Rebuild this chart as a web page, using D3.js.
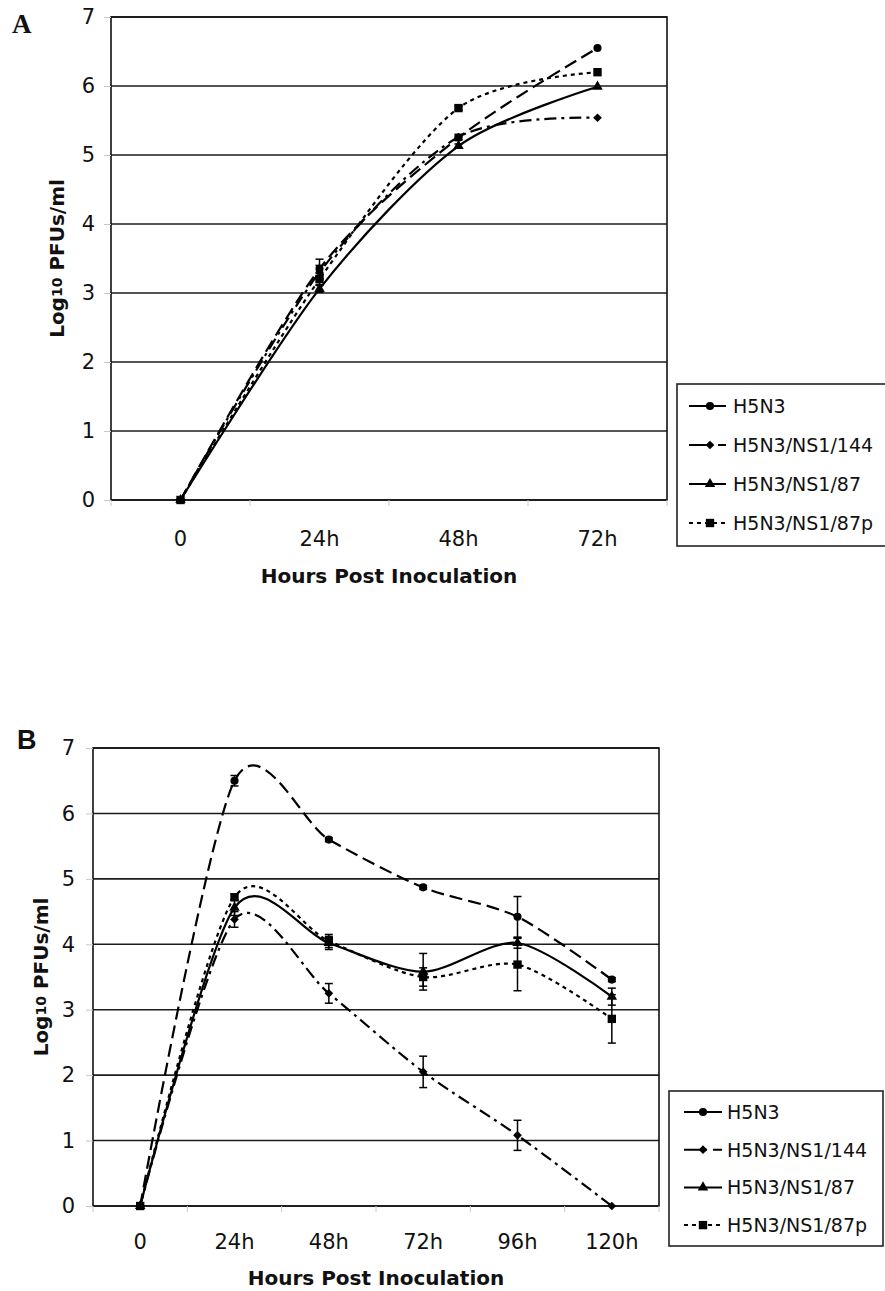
<!DOCTYPE html>
<html>
<head>
<meta charset="utf-8">
<script src="https://cdn.jsdelivr.net/npm/d3@7"></script>
<style>
  html, body { margin: 0; padding: 0; background: #fff; }
  svg { display: block; }
</style>
</head>
<body>
<div id="chart"></div>
<script>
// ---------- data ----------
const seriesNames = ["H5N3", "H5N3/NS1/144", "H5N3/NS1/87", "H5N3/NS1/87p"];
const yTicks = [0, 1, 2, 3, 4, 5, 6, 7];

// panel A
const hoursA = ["0", "24h", "48h", "72h"];
const a_H5N3 = [0, 3.35, 5.25, 6.55];
const a_NS1_144 = [0, 3.3, 5.26, 5.54];
const a_NS1_87 = [0, 3.06, 5.13, 5.99];
const a_NS1_87p = [0, 3.2, 5.68, 6.2];
const aErr_H5N3 = [0, 0.14, 0.03, 0];
const aErr_NS1_144 = [0, 0.1, 0.04, 0];
const aErr_NS1_87 = [0, 0.05, 0.03, 0];
const aErr_NS1_87p = [0, 0.08, 0.03, 0];

// panel B
const hoursB = ["0", "24h", "48h", "72h", "96h", "120h"];
const b_H5N3 = [0, 6.5, 5.6, 4.87, 4.42, 3.46];
const b_NS1_144 = [0, 4.38, 3.25, 2.05, 1.08, 0];
const b_NS1_87 = [0, 4.56, 4.02, 3.58, 4.02, 3.2];
const b_NS1_87p = [0, 4.72, 4.05, 3.5, 3.69, 2.86];
const bErr_H5N3 = [0, 0.08, 0.03, 0.03, 0.31, 0.03];
const bErr_NS1_144 = [0, 0.12, 0.15, 0.24, 0.23, 0];
const bErr_NS1_87 = [0, 0.12, 0.1, 0.28, 0.08, 0.13];
const bErr_NS1_87p = [0, 0.05, 0.1, 0.14, 0.4, 0.37];

// ---------- styles ----------
const dashes = ["13,6", "12,5,3,5", null, "4,4"];
const legendDashes = [null, "23,6,9", null, "4,4"];
const markers = ["circle", "diamond", "triangle", "square"];
const FONT = "'DejaVu Sans', Verdana, sans-serif";

const svg = d3.select("#chart").append("svg")
  .attr("width", 885)
  .attr("height", 1291);

function markerPath(kind) {
  if (kind === "circle") return d3.symbol(d3.symbolCircle, 52)();
  if (kind === "diamond") return d3.symbol(d3.symbolSquare, 38)();
  if (kind === "triangle") return d3.symbol(d3.symbolTriangle, 48)();
  return d3.symbol(d3.symbolSquare, 70)();
}

function drawMarker(g, kind, px, py) {
  g.append("path")
    .attr("d", markerPath(kind))
    .attr("transform", `translate(${px},${py})` + (kind === "diamond" ? " rotate(45)" : ""))
    .attr("fill", "#000");
}

function drawPanel(p) {
  const g = svg.append("g");

  const x = d3.scaleBand().domain(p.cats).range([p.left, p.right]);
  const y = d3.scaleLinear().domain([0, 7]).range([p.bottom, p.top]);
  const cx = c => x(c) + x.bandwidth() / 2;

  // gridlines
  g.selectAll("line.grid")
    .data(yTicks)
    .join("line")
    .attr("x1", p.left).attr("x2", p.right)
    .attr("y1", d => y(d)).attr("y2", d => y(d))
    .attr("stroke", "#1c1c1c")
    .attr("stroke-width", 1.6);

  g.append("rect")
    .attr("x", p.left).attr("y", p.top)
    .attr("width", p.right - p.left).attr("height", p.bottom - p.top)
    .attr("fill", "none")
    .attr("stroke", "#111")
    .attr("stroke-width", 1.6);

  // y axis
  const ya = g.append("g")
    .attr("transform", `translate(${p.left},0)`)
    .call(d3.axisLeft(y).tickValues(yTicks).tickSize(7).tickPadding(p.yPad).tickFormat(d3.format("d")));
  ya.select(".domain").remove();
  ya.selectAll(".tick line").attr("stroke", "#c8c8c8");
  ya.selectAll("text").attr("font-size", 21).attr("font-family", FONT).attr("fill", "#111");

  // x axis
  const xa = g.append("g")
    .attr("transform", `translate(0,${p.bottom})`)
    .call(d3.axisBottom(x).tickSize(0).tickPadding(p.xPad));
  xa.select(".domain").remove();
  xa.selectAll("text").attr("font-size", 21).attr("font-family", FONT).attr("fill", "#111");

  // small ticks at band edges
  const edges = p.cats.map(c => x(c)).concat([x.range()[1]]);
  g.selectAll("line.xt")
    .data(edges)
    .join("line")
    .attr("x1", d => d).attr("x2", d => d)
    .attr("y1", p.bottom).attr("y2", p.bottom + 6)
    .attr("stroke", "#c8c8c8");

  // lines
  const line = d3.line()
    .x((d, i) => cx(p.cats[i]))
    .y(d => y(d))
    .curve(d3.curveCardinal.tension(0.15));

  p.values.forEach((vals, s) => {
    g.append("path")
      .attr("d", line(vals))
      .attr("fill", "none")
      .attr("stroke", "#000")
      .attr("stroke-width", 2.2)
      .attr("stroke-dasharray", dashes[s]);
  });

  // error bars + markers
  p.values.forEach((vals, s) => {
    vals.forEach((v, i) => {
      const e = p.errs[s][i];
      if (e > 0) {
        const px = cx(p.cats[i]);
        g.append("line")
          .attr("x1", px).attr("x2", px)
          .attr("y1", y(v - e)).attr("y2", y(v + e))
          .attr("stroke", "#000").attr("stroke-width", 1.5);
        [v - e, v + e].forEach(t => {
          g.append("line")
            .attr("x1", px - 4).attr("x2", px + 4)
            .attr("y1", y(t)).attr("y2", y(t))
            .attr("stroke", "#000").attr("stroke-width", 1.5);
        });
      }
    });
  });
  p.values.forEach((vals, s) => {
    vals.forEach((v, i) => drawMarker(g, markers[s], cx(p.cats[i]), y(v)));
  });

  // axis titles
  g.append("text")
    .attr("x", (p.left + p.right) / 2)
    .attr("y", p.xTitleY)
    .attr("text-anchor", "middle")
    .attr("font-family", FONT)
    .attr("font-weight", "bold")
    .attr("font-size", 20)
    .attr("fill", "#111")
    .text("Hours Post Inoculation");

  const yt = g.append("text")
    .attr("transform", `translate(${p.yTitleX},${(p.top + p.bottom) / 2}) rotate(-90)`)
    .attr("text-anchor", "middle")
    .attr("dominant-baseline", "central")
    .attr("font-family", FONT)
    .attr("font-weight", "bold")
    .attr("font-size", 20)
    .attr("fill", "#111");
  yt.append("tspan").text("Log");
  yt.append("tspan").attr("font-size", 14).text("10");
  yt.append("tspan").text(" PFUs/ml");

  // panel letter
  g.append("text")
    .attr("x", p.letter.x).attr("y", p.letter.y)
    .attr("font-family", p.letter.font)
    .attr("font-weight", "bold")
    .attr("font-size", 27)
    .attr("fill", "#111")
    .text(p.letter.text);

  // legend
  const L = p.legend;
  g.append("rect")
    .attr("x", L.x).attr("y", L.y)
    .attr("width", L.w).attr("height", L.h)
    .attr("fill", "#fff")
    .attr("stroke", "#222")
    .attr("stroke-width", 1.6);

  seriesNames.forEach((name, s) => {
    const ry = L.y + L.first + s * L.step;
    g.append("line")
      .attr("x1", L.lx1).attr("x2", L.lx2)
      .attr("y1", ry).attr("y2", ry)
      .attr("stroke", "#000")
      .attr("stroke-width", 2)
      .attr("stroke-dasharray", legendDashes[s]);
    drawMarker(g, markers[s], L.mx, ry);
    g.append("text")
      .attr("x", L.tx).attr("y", ry)
      .attr("dominant-baseline", "central")
      .attr("font-family", FONT)
      .attr("font-size", 19)
      .attr("fill", "#111")
      .text(name);
  });
}

drawPanel({
  cats: hoursA,
  values: [a_H5N3, a_NS1_144, a_NS1_87, a_NS1_87p],
  errs: [aErr_H5N3, aErr_NS1_144, aErr_NS1_87, aErr_NS1_87p],
  left: 111, right: 667, top: 17, bottom: 500,
  yPad: 9, xPad: 31, xTitleY: 583, yTitleX: 57,
  letter: { text: "A", x: 12, y: 33, font: "'Liberation Serif', 'Times New Roman', serif" },
  legend: { x: 677, y: 384, w: 220, h: 162, first: 22, step: 39, lx1: 689, lx2: 726, mx: 710, tx: 733 }
});

drawPanel({
  cats: hoursB,
  values: [b_H5N3, b_NS1_144, b_NS1_87, b_NS1_87p],
  errs: [bErr_H5N3, bErr_NS1_144, bErr_NS1_87, bErr_NS1_87p],
  left: 93, right: 659, top: 748, bottom: 1206,
  yPad: 11, xPad: 28, xTitleY: 1285, yTitleX: 41,
  letter: { text: "B", x: 17, y: 749, font: "'Liberation Sans', Arial, sans-serif" },
  legend: { x: 669, y: 1091, w: 214, h: 155, first: 21, step: 37.7, lx1: 684, lx2: 722, mx: 703, tx: 727 }
});
</script>
</body>
</html>
